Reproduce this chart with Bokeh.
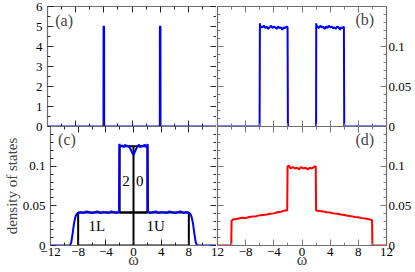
from bokeh.plotting import figure
from bokeh.layouts import row, column
from bokeh.models import FixedTicker, LinearAxis, Range1d, Label
from bokeh.embed import file_html
from bokeh.resources import INLINE

nan = float("nan")

# ---------------- data ----------------
# (a) atomic limit: two delta peaks
a_w = [-12, -4.05, -4.04, -3.96, -3.95, 3.95, 3.96, 4.04, 4.05, 12]
a_dos = [0, 0, 5, 5, 0, 0, 5, 5, 0, 0]

# (b) two Hubbard bands, gap between -2 and 2
b_w = [-12, -6.02, -5.98, -5.9, -5.8, -5.6, -5.4, -5.2, -5.0, -4.8, -4.6, -4.4,
       -4.2, -4.0, -3.8, -3.6, -3.4, -3.2, -3.0, -2.8, -2.6, -2.4, -2.2, -2.05,
       -2.0, nan,
       2.0, 2.02, 2.1, 2.2, 2.4, 2.6, 2.8, 3.0, 3.2, 3.4, 3.6, 3.8, 4.0, 4.2, 4.4,
       4.6, 4.8, 5.0, 5.2, 5.4, 5.6, 5.8, 5.95, 6.0, 12]
b_dos = [0, 0, 0.129, 0.123, 0.125, 0.124, 0.126, 0.123, 0.125, 0.122, 0.124, 0.126,
         0.123, 0.125, 0.124, 0.122, 0.125, 0.123, 0.124, 0.121, 0.124, 0.123, 0.125, 0.124,
         0, nan,
         0, 0.129, 0.124, 0.125, 0.123, 0.126, 0.124, 0.125, 0.122, 0.125, 0.123, 0.126, 0.124, 0.125, 0.123,
         0.124, 0.122, 0.125, 0.124, 0.121, 0.124, 0.123, 0.125, 0, 0]

# (c) blue DOS
c_w = [-12, -9.2, -9.0, -8.8, -8.6, -8.4, -8.2, -8.0, -7.6, -7.2, -6.8, -6.4, -6.0,
       -5.6, -5.2, -4.8, -4.4, -4.0, -3.6, -3.2, -2.8, -2.4, -2.1, -2.05, -1.9,
       -1.6, -1.4, -1.2, -1.0, -0.8, -0.6, -0.4, -0.2, 0.0, 0.2, 0.4, 0.6, 0.8, 1.0,
       1.2, 1.4, 1.6, 1.9, 2.05, 2.1, 2.4, 2.8, 3.2, 3.6, 4.0, 4.4, 4.8, 5.2, 5.6,
       6.0, 6.4, 6.8, 7.2, 7.6, 8.0, 8.2, 8.4, 8.6, 8.8, 9.0, 9.2, 12]
c_dos = [0, 0, 0.004, 0.015, 0.028, 0.036, 0.040, 0.041, 0.042, 0.041, 0.043, 0.042, 0.041,
         0.042, 0.043, 0.041, 0.042, 0.042, 0.041, 0.043, 0.042, 0.041, 0.043, 0.128, 0.125,
         0.126, 0.124, 0.127, 0.125, 0.126, 0.124, 0.121, 0.117, 0.114, 0.118, 0.122, 0.125, 0.127, 0.124,
         0.126, 0.125, 0.127, 0.124, 0.128, 0.043, 0.041, 0.042, 0.043, 0.041, 0.042, 0.042, 0.041, 0.043, 0.042,
         0.041, 0.042, 0.043, 0.041, 0.042, 0.041, 0.040, 0.036, 0.028, 0.015, 0.004, 0, 0]

# (c) black schematic boxes and labels
box_left = [-8, -2]
box_right = [8, 2]
box_bottom = [0, 1 / 24]
box_top = [1 / 24, 1 / 8]
div_x = [0]
div_bottom = [0]
div_top = [1 / 8]
box_text = ["2", "0", "1L", "1U"]
box_text_x = [-1.1, 0.9, -5.3, 3.2]
box_text_y = [0.081, 0.081, 0.025, 0.025]

# (d) red DOS
d_w = [-12, -10.05, -10.0, -9.8, -9.5, -9.0, -8.5, -8.0, -7.5, -7.0, -6.5, -6.0, -5.5,
       -5.0, -4.5, -4.0, -3.5, -3.0, -2.5, -2.1, -2.05, -1.9, -1.6, -1.3, -1.0, -0.7,
       -0.4, -0.1, 0.2, 0.5, 0.8, 1.1, 1.4, 1.7, 1.95, 2.0, 2.5, 3.0, 3.5, 4.0, 4.5,
       5.0, 5.5, 6.0, 6.5, 7.0, 7.5, 8.0, 8.5, 9.0, 9.5, 9.95, 10.0, 12]
d_dos = [0, 0, 0.031, 0.033, 0.033, 0.034, 0.035, 0.0345, 0.036, 0.0365, 0.037, 0.038, 0.0385,
         0.039, 0.040, 0.0405, 0.042, 0.0425, 0.044, 0.044, 0.099, 0.101, 0.097, 0.099, 0.097, 0.098,
         0.096, 0.099, 0.097, 0.098, 0.096, 0.098, 0.097, 0.099, 0.100, 0.044, 0.0435, 0.043, 0.042, 0.0415, 0.0405,
         0.040, 0.039, 0.0385, 0.0375, 0.037, 0.036, 0.0355, 0.0345, 0.034, 0.033, 0.032, 0, 0]

# ticks
x_major = [-12, -8, -4, 0, 4, 8, 12]
x_minor = [-10, -6, -2, 2, 6, 10]
ya_major = [0, 1, 2, 3, 4, 5, 6]
ya_minor = [0.5, 1.5, 2.5, 3.5, 4.5, 5.5]
yd_major = [0, 0.05, 0.1]
yd_minor = [0.01, 0.02, 0.03, 0.04, 0.06, 0.07, 0.08, 0.09, 0.11, 0.12, 0.13, 0.14]
panel_names = ["(a)", "(b)", "(c)", "(d)"]

FONT = "'Liberation Serif', 'Times New Roman', serif"
FRAME = "#6e6e6e"
BLUE = "#0000ff"
RED = "#ff0000"


def make_fig(width, height, ml, mr, mt, mb, yr, margin=None):
    kw = {}
    if margin is not None:
        kw["margin"] = margin
    p = figure(width=width, height=height, x_range=Range1d(-12, 12), y_range=Range1d(*yr),
               x_axis_type=None, y_axis_type=None, toolbar_location=None,
               output_backend="svg", min_border_left=ml, min_border_right=mr,
               min_border_top=mt, min_border_bottom=mb, **kw)
    p.border_fill_color = None
    p.outline_line_color = None
    return p


def add_axis(p, side, major, minor, labeled, tick_color, overrides=None,
             label=None, standoff=3, label_standoff=0):
    ax = LinearAxis(ticker=FixedTicker(ticks=major, minor_ticks=minor))
    ax.axis_line_color = FRAME
    ax.axis_line_width = 1.2
    ax.major_tick_in = 6
    ax.major_tick_out = 0
    ax.minor_tick_in = 3
    ax.minor_tick_out = 0
    ax.major_tick_line_color = tick_color
    ax.minor_tick_line_color = tick_color
    if labeled:
        ax.major_label_text_font = FONT
        ax.major_label_text_font_size = "13px"
        ax.major_label_text_color = "black"
        ax.major_label_standoff = standoff
        if overrides:
            ax.major_label_overrides = overrides
    else:
        ax.major_label_overrides = {t: "" for t in major}
        ax.major_label_text_font_size = "0px"
        ax.major_label_standoff = 0
    if label is not None:
        ax.axis_label = label
        ax.axis_label_text_font = FONT
        ax.axis_label_text_font_size = "16px" if label == "ω" else "15px"
        ax.axis_label_text_font_style = "normal"
        ax.axis_label_standoff = label_standoff
    p.add_layout(ax, side)


def panel_label(p, text, x, y):
    p.add_layout(Label(x=x, y=y, text=text, text_font=FONT, text_font_size="16px",
                       text_align="left", text_baseline="middle"))


DARK = "#262626"
LIGHT = "#7a7a7a"

# (a)
pa = make_fig(216, 132, 47, 0, 6, 6, (0, 6))
add_axis(pa, "left", ya_major, ya_minor, True, DARK, standoff=5)
add_axis(pa, "right", ya_major, ya_minor, False, DARK)
add_axis(pa, "above", x_major, x_minor, False, DARK)
add_axis(pa, "below", x_major, x_minor, False, DARK)
pa.line(a_w, a_dos, line_color=BLUE, line_width=2)
panel_label(pa, panel_names[0], -10.9, 5.3)

# (b)
pb = make_fig(199, 132, 1, 29, 6, 6, (0, 0.15))
add_axis(pb, "left", yd_major, yd_minor, False, LIGHT)
add_axis(pb, "right", yd_major, yd_minor, True, LIGHT, standoff=2)
add_axis(pb, "above", x_major, x_minor, False, LIGHT)
add_axis(pb, "below", x_major, x_minor, False, LIGHT)
pb.line(b_w, b_dos, line_color=BLUE, line_width=2)
panel_label(pb, panel_names[1], 7.6, 0.134)

# (c)
pc = make_fig(216, 146, 47, 0, 0, 27, (0, 0.15))
add_axis(pc, "left", yd_major, yd_minor, True, DARK, label="density of states",
         standoff=5, label_standoff=0)
add_axis(pc, "right", yd_major, yd_minor, False, DARK)
add_axis(pc, "above", x_major, x_minor, False, DARK)
add_axis(pc, "below", x_major, x_minor, True, DARK, overrides={12: ""}, label="ω",
         standoff=2, label_standoff=-8)
pc.quad(left=box_left, right=box_right, bottom=box_bottom, top=box_top,
        fill_color=None, line_color="black", line_width=2)
pc.segment(x0=div_x, y0=div_bottom, x1=div_x, y1=div_top, line_color="black", line_width=2)
pc.line(c_w, c_dos, line_color=BLUE, line_width=2)
pc.text(x=box_text_x, y=box_text_y, text=box_text, text_font={"value": FONT},
        text_font_size="15px", text_align="center", text_baseline="middle")
panel_label(pc, panel_names[2], -10.9, 0.134)

# (d)
pd_ = make_fig(209, 146, 11, 29, 0, 27, (0, 0.15), margin=(0, 0, 0, -10))
add_axis(pd_, "left", yd_major, yd_minor, False, LIGHT)
add_axis(pd_, "right", yd_major, yd_minor, True, LIGHT, standoff=2)
add_axis(pd_, "above", x_major, x_minor, False, LIGHT)
add_axis(pd_, "below", x_major, x_minor, True, LIGHT, overrides={-12: "12"}, label="ω",
         standoff=2, label_standoff=-8)
pd_.line(d_w, d_dos, line_color=RED, line_width=2)
panel_label(pd_, panel_names[3], 7.6, 0.134)

top = row(pa, pb)
bottom = row(pc, pd_, margin=(-6, 0, 0, 0))
layout = column(top, bottom)

open("out.html", "w").write(file_html(layout, INLINE))
